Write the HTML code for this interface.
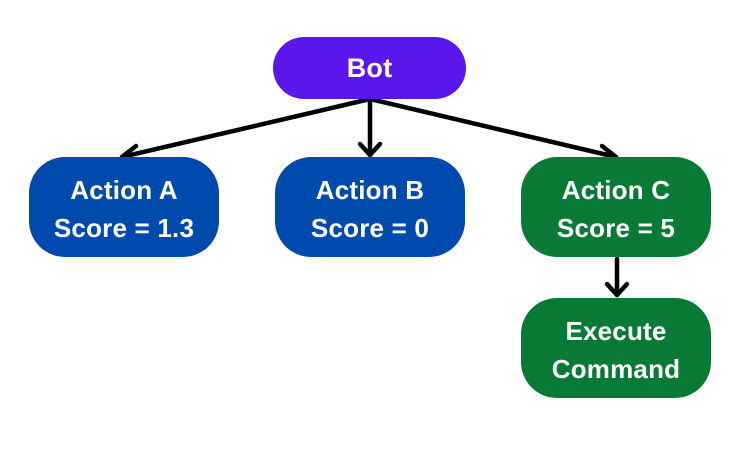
<!DOCTYPE html>
<html><head><style>
body{margin:0;width:751px;height:474px;background:#fff;position:relative;overflow:hidden;font-family:"Liberation Sans",sans-serif;}
.b{position:absolute;color:#fff;font-weight:bold;font-size:26px;line-height:38px;text-align:center;display:flex;flex-direction:column;justify-content:center;align-items:center;padding-top:4px;box-sizing:border-box;letter-spacing:0.2px}
</style></head><body>
<svg width="751" height="474" style="position:absolute;left:0;top:0">
<g stroke="#000" stroke-width="4.5" fill="none" stroke-linecap="round" stroke-linejoin="round">
<line x1="370" y1="99" x2="122" y2="157"/>
<line x1="370" y1="99" x2="370" y2="155"/>
<line x1="370" y1="99" x2="616" y2="157"/>
<line x1="617" y1="259" x2="617" y2="295"/>
<polyline points="136,146 122,157 137,163"/>
<polyline points="360,144 370,155 380,144"/>
<polyline points="602,146 616,157 601,163"/>
<polyline points="607,284 617,295 627,284"/>
</g>
</svg>
<div class="b" style="left:273px;top:37px;width:193px;height:62px;border-radius:31px;background:#5b17eb;font-size:27px;padding-top:0">Bot</div>
<div class="b" style="left:29px;top:157px;width:190px;height:100px;border-radius:36px;background:#004aad"><div>Action A</div><div>Score = 1.3</div></div>
<div class="b" style="left:275px;top:157px;width:190px;height:100px;border-radius:36px;background:#004aad"><div>Action B</div><div>Score = 0</div></div>
<div class="b" style="left:521px;top:157px;width:190px;height:100px;border-radius:36px;background:#087a35"><div>Action C</div><div>Score = 5</div></div>
<div class="b" style="left:521px;top:298px;width:190px;height:100px;border-radius:36px;background:#087a35"><div>Execute</div><div>Command</div></div>
</body></html>
